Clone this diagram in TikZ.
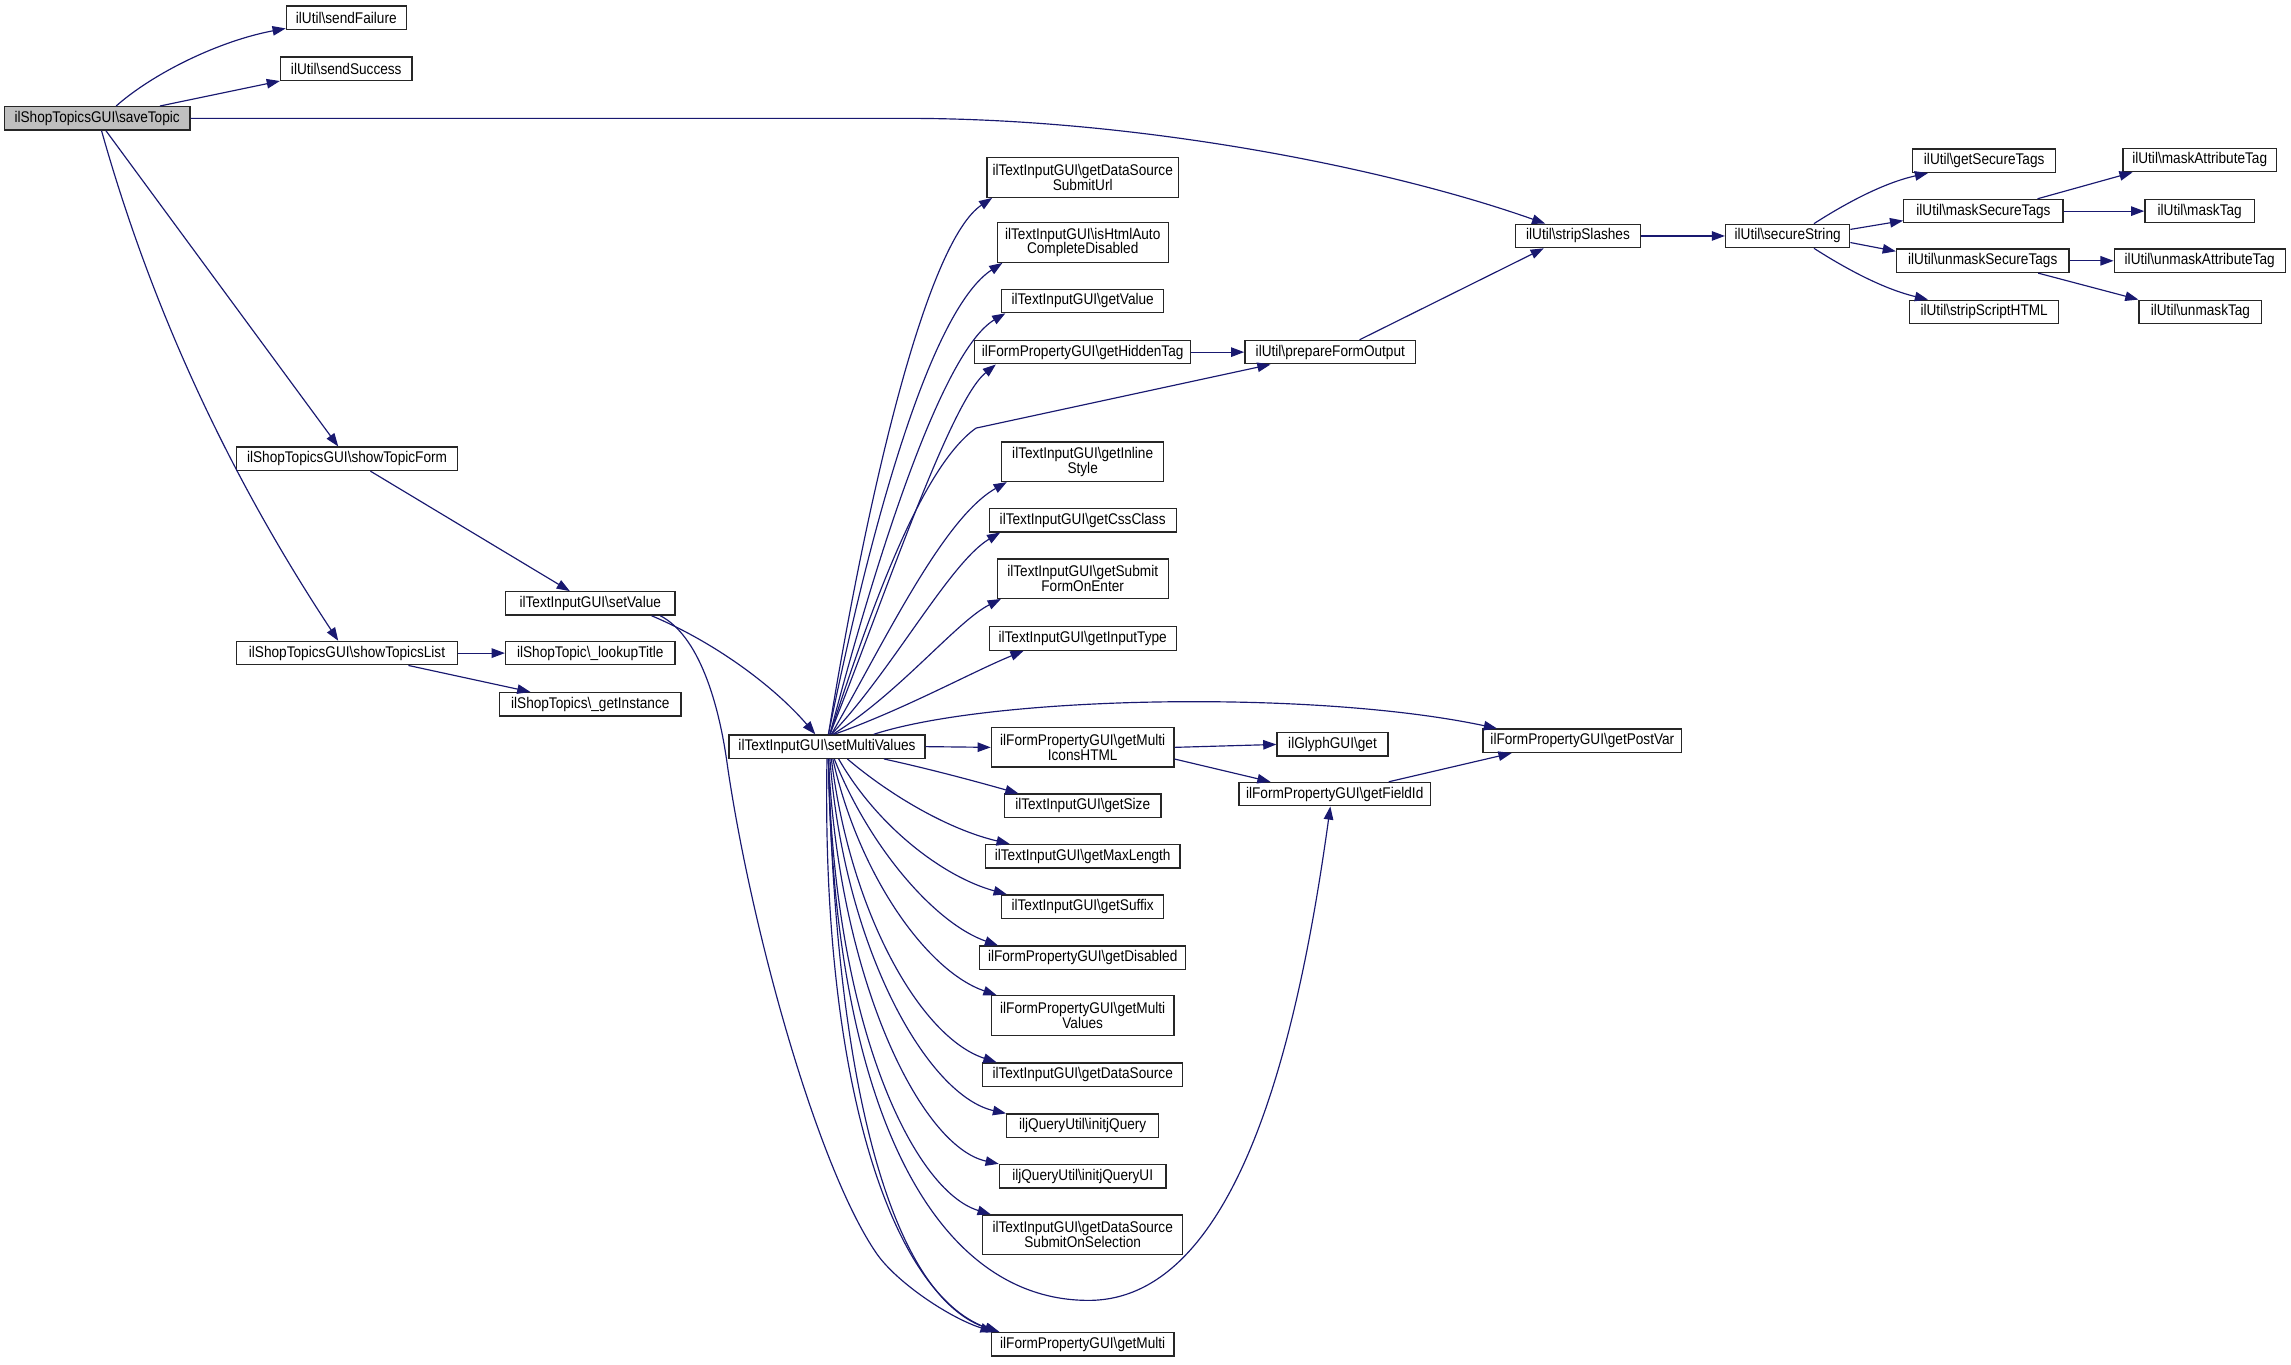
\documentclass[tikz,border=0pt]{standalone}
\usepackage{fontspec}
\setmainfont{Liberation Sans}[FakeStretch=0.88]
\usetikzlibrary{arrows.meta}
\definecolor{edgec}{RGB}{25,25,112}
\definecolor{rootfill}{RGB}{191,191,191}
\tikzset{
  fn/.style={draw=black!85, line width=0.9pt, fill=white, inner sep=0pt, minimum height=16pt, align=center, font=\fontsize{10.6}{10}\selectfont},
  fntwo/.style={fn, minimum height=27pt},
  rootfn/.style={fn, fill=rootfill},
  edge/.style={draw=edgec, line width=0.8pt, -{Triangle[length=9pt,width=6.5pt]}},
}
\newcommand{\bs}{\textbackslash}
\begin{document}
\begin{tikzpicture}[x=1pt,y=-1pt]
\useasboundingbox (0,0) rectangle (1568,934);
% left part
\node[rootfn, minimum width=127pt] (sT) at (66.5,81) {ilShopTopicsGUI\bs saveTopic};
\node[fn, minimum width=82pt] (sF) at (237,12) {ilUtil\bs sendFailure};
\node[fn, minimum width=90pt] (sS) at (237,47) {ilUtil\bs sendSuccess};
\node[fn, minimum width=151pt] (sTF) at (237.5,314) {ilShopTopicsGUI\bs showTopicForm};
\node[fn, minimum width=151pt] (sTL) at (237.5,447) {ilShopTopicsGUI\bs showTopicsList};
\node[fn, minimum width=116pt] (sV) at (404,413) {ilTextInputGUI\bs setValue};
\node[fn, minimum width=116pt] (lT) at (404,447) {ilShopTopic\bs\_lookupTitle};
\node[fn, minimum width=124pt] (gI) at (404,482) {ilShopTopics\bs\_getInstance};
\node[fn, minimum width=134pt] (sMV) at (566,511) {ilTextInputGUI\bs setMultiValues};
% column
\node[fntwo, minimum width=131pt] (dsu) at (741,121.5) {ilTextInputGUI\bs getDataSource\\SubmitUrl};
\node[fntwo, minimum width=117pt] (hac) at (741,166) {ilTextInputGUI\bs isHtmlAuto\\CompleteDisabled};
\node[fn, minimum width=111pt] (gv) at (741,206) {ilTextInputGUI\bs getValue};
\node[fn, minimum width=148pt] (ght) at (741,241) {ilFormPropertyGUI\bs getHiddenTag};
\node[fntwo, minimum width=111pt] (gis) at (741,316) {ilTextInputGUI\bs getInline\\Style};
\node[fn, minimum width=128pt] (gcc) at (741,356) {ilTextInputGUI\bs getCssClass};
\node[fntwo, minimum width=117pt] (gsf) at (741,396) {ilTextInputGUI\bs getSubmit\\FormOnEnter};
\node[fn, minimum width=128pt] (git) at (741,437) {ilTextInputGUI\bs getInputType};
\node[fntwo, minimum width=125pt] (gmi) at (741,511.5) {ilFormPropertyGUI\bs getMulti\\IconsHTML};
\node[fn, minimum width=107pt] (gsz) at (741,551.5) {ilTextInputGUI\bs getSize};
\node[fn, minimum width=133pt] (gml) at (741,586) {ilTextInputGUI\bs getMaxLength};
\node[fn, minimum width=111pt] (gsx) at (741,620.5) {ilTextInputGUI\bs getSuffix};
\node[fn, minimum width=141pt] (gdi) at (741,655.5) {ilFormPropertyGUI\bs getDisabled};
\node[fntwo, minimum width=125pt] (gmv) at (741,695) {ilFormPropertyGUI\bs getMulti\\Values};
\node[fn, minimum width=137pt] (gds) at (741,735.5) {ilTextInputGUI\bs getDataSource};
\node[fn, minimum width=104pt] (ijq) at (741,770.5) {iljQueryUtil\bs initjQuery};
\node[fn, minimum width=114pt] (iju) at (741,805) {iljQueryUtil\bs initjQueryUI};
\node[fntwo, minimum width=137pt] (dss) at (741,845) {ilTextInputGUI\bs getDataSource\\SubmitOnSelection};
\node[fn, minimum width=125pt] (gm) at (741,920) {ilFormPropertyGUI\bs getMulti};
% middle right
\node[fn, minimum width=117pt] (pfo) at (910.5,241) {ilUtil\bs prepareFormOutput};
\node[fn, minimum width=76pt] (ggg) at (912,509.5) {ilGlyphGUI\bs get};
\node[fn, minimum width=131pt] (gfi) at (913.5,543.5) {ilFormPropertyGUI\bs getFieldId};
\node[fn, minimum width=136pt] (gpv) at (1083,507) {ilFormPropertyGUI\bs getPostVar};
% right part
\node[fn, minimum width=86pt] (ss) at (1080,161.5) {ilUtil\bs stripSlashes};
\node[fn, minimum width=85pt] (sec) at (1223.5,161.5) {ilUtil\bs secureString};
\node[fn, minimum width=98pt] (gst) at (1358,110) {ilUtil\bs getSecureTags};
\node[fn, minimum width=109pt] (mst) at (1357.5,144.5) {ilUtil\bs maskSecureTags};
\node[fn, minimum width=118pt] (ust) at (1357,178.5) {ilUtil\bs unmaskSecureTags};
\node[fn, minimum width=102pt] (ssh) at (1358,213.5) {ilUtil\bs stripScriptHTML};
\node[fn, minimum width=105pt] (mat) at (1505.5,109.5) {ilUtil\bs maskAttributeTag};
\node[fn, minimum width=75pt] (mt) at (1505.5,144.5) {ilUtil\bs maskTag};
\node[fn, minimum width=117pt] (uat) at (1505.5,178.5) {ilUtil\bs unmaskAttributeTag};
\node[fn, minimum width=84pt] (ut) at (1506,213.5) {ilUtil\bs unmaskTag};
% edges from saveTopic
\draw[edge] ([xshift=13pt]sT.north) .. controls (105,50) and (150,28) .. ([yshift=1pt]sF.south west);
\draw[edge] ([xshift=43pt]sT.north) -- (sS.south west);
\draw[edge] (sT.east) -- (620,81) .. controls (780,81) and (950,115) .. ([xshift=21pt]ss.north west);
\draw[edge] ([xshift=6pt]sT.south) -- ([xshift=-6pt]sTF.north);
\draw[edge] ([xshift=3pt]sT.south) .. controls (95,180) and (140,300) .. ([xshift=-6pt]sTL.north);
\draw[edge] ([xshift=16pt]sTF.south) -- ([xshift=-14pt]sV.north);
\draw[edge] (sTL.east) -- (lT.west);
\draw[edge] ([xshift=42pt]sTL.south) -- ([xshift=-41pt]gI.north);
\draw[edge] ([xshift=42pt]sV.south) .. controls (490,440) and (530,470) .. ([xshift=-8pt]sMV.north);
\draw[edge] ([xshift=48pt]sV.south) .. controls (478,435) and (492,480) .. (498,525) .. controls (515,640) and (560,800) .. (600,858) .. controls (614,878) and (650,902) .. ([xshift=2pt]gm.north west);
% edges from setMultiValues upward
\draw[edge] ([xshift=1pt]sMV.north) .. controls (595,330) and (635,165) .. ([xshift=4pt]dsu.south west);
\draw[edge] ([xshift=1pt]sMV.north) .. controls (600,340) and (640,210) .. ([xshift=4pt]hac.south west);
\draw[edge] ([xshift=2pt]sMV.north) .. controls (600,380) and (645,240) .. ([xshift=3pt]gv.south west);
\draw[edge] ([xshift=2pt]sMV.north) .. controls (605,410) and (650,275) .. ([xshift=15pt]ght.south west);
\draw[edge] ([xshift=2pt]sMV.north) .. controls (595,420) and (630,320) .. (668,293) -- ([xshift=18pt]pfo.south west);
\draw[edge] ([xshift=3pt]sMV.north) .. controls (605,440) and (645,355) .. ([xshift=4pt]gis.south west);
\draw[edge] ([xshift=3pt]sMV.north) .. controls (610,460) and (650,385) .. ([xshift=8pt]gcc.south west);
\draw[edge] ([xshift=4pt]sMV.north) .. controls (615,475) and (655,425) .. ([xshift=3pt]gsf.south west);
\draw[edge] ([xshift=5pt]sMV.north) .. controls (620,485) and (665,460) .. ([xshift=24pt]git.south west);
\draw[edge] ([xshift=32pt]sMV.north) .. controls (680,476) and (900,472) .. ([xshift=10pt]gpv.north west);
\draw[edge] (sMV.east) -- (gmi.west);
% edges from setMultiValues downward
\draw[edge] ([xshift=39pt]sMV.south) .. controls (635,526) and (665,534) .. ([xshift=10pt]gsz.north west);
\draw[edge] ([xshift=14pt]sMV.south) .. controls (610,545) and (650,568) .. ([xshift=17pt]gml.north west);
\draw[edge] ([xshift=8pt]sMV.south) .. controls (600,565) and (645,600) .. ([xshift=4pt]gsx.north west);
\draw[edge] ([xshift=5pt]sMV.south) .. controls (595,580) and (640,632) .. ([xshift=13pt]gdi.north west);
\draw[edge] ([xshift=4pt]sMV.south) .. controls (588,600) and (635,665) .. ([xshift=4pt]gmv.north west);
\draw[edge] ([xshift=3pt]sMV.south) .. controls (582,625) and (630,710) .. ([xshift=10pt]gds.north west);
\draw[edge] ([xshift=2pt]sMV.south) .. controls (578,650) and (635,750) .. (ijq.north west);
\draw[edge] ([xshift=1pt]sMV.south) .. controls (574,670) and (630,785) .. (iju.north west);
\draw[edge] ([xshift=1pt]sMV.south) .. controls (570,700) and (625,815) .. ([xshift=6pt]dss.north west);
\draw[edge] (sMV.south) .. controls (562,740) and (610,885) .. ([xshift=5pt]gm.north west);
\draw[edge] ([xshift=1pt]sMV.south) .. controls (572,760) and (615,890) .. ([xshift=6pt]gm.north west);
\draw[edge] ([xshift=1pt]sMV.south) .. controls (570,760) and (640,890) .. (745,890) .. controls (850,890) and (890,700) .. ([xshift=-3pt]gfi.south);
% other edges
\draw[edge] (ght.east) -- (pfo.west);
\draw[edge] ([xshift=20pt]pfo.north) -- ([xshift=20pt]ss.south west);
\draw[edge] (gmi.east) -- (ggg.west);
\draw[edge] ([yshift=-8pt]gmi.east) -- ([xshift=22pt]gfi.north west);
\draw[edge] ([xshift=37pt]gfi.north) -- ([xshift=20pt]gpv.south west);
\draw[edge] (ss.east) -- (sec.west);
\draw[edge] ([xshift=18pt]sec.north) .. controls (1265,138) and (1290,125) .. ([xshift=11pt]gst.south west);
\draw[edge] ([yshift=4.5pt]sec.east) -- ([yshift=-6.5pt]mst.west);
\draw[edge] ([yshift=-4.5pt]sec.east) -- ([yshift=6.5pt]ust.west);
\draw[edge] ([xshift=18pt]sec.south) .. controls (1265,185) and (1290,198) .. ([xshift=13pt]ssh.north west);
\draw[edge] ([xshift=37pt]mst.north) -- ([xshift=7pt]mat.south west);
\draw[edge] (mst.east) -- (mt.west);
\draw[edge] (ust.east) -- (uat.west);
\draw[edge] ([xshift=38pt]ust.south) -- (ut.north west);
\end{tikzpicture}
\end{document}
